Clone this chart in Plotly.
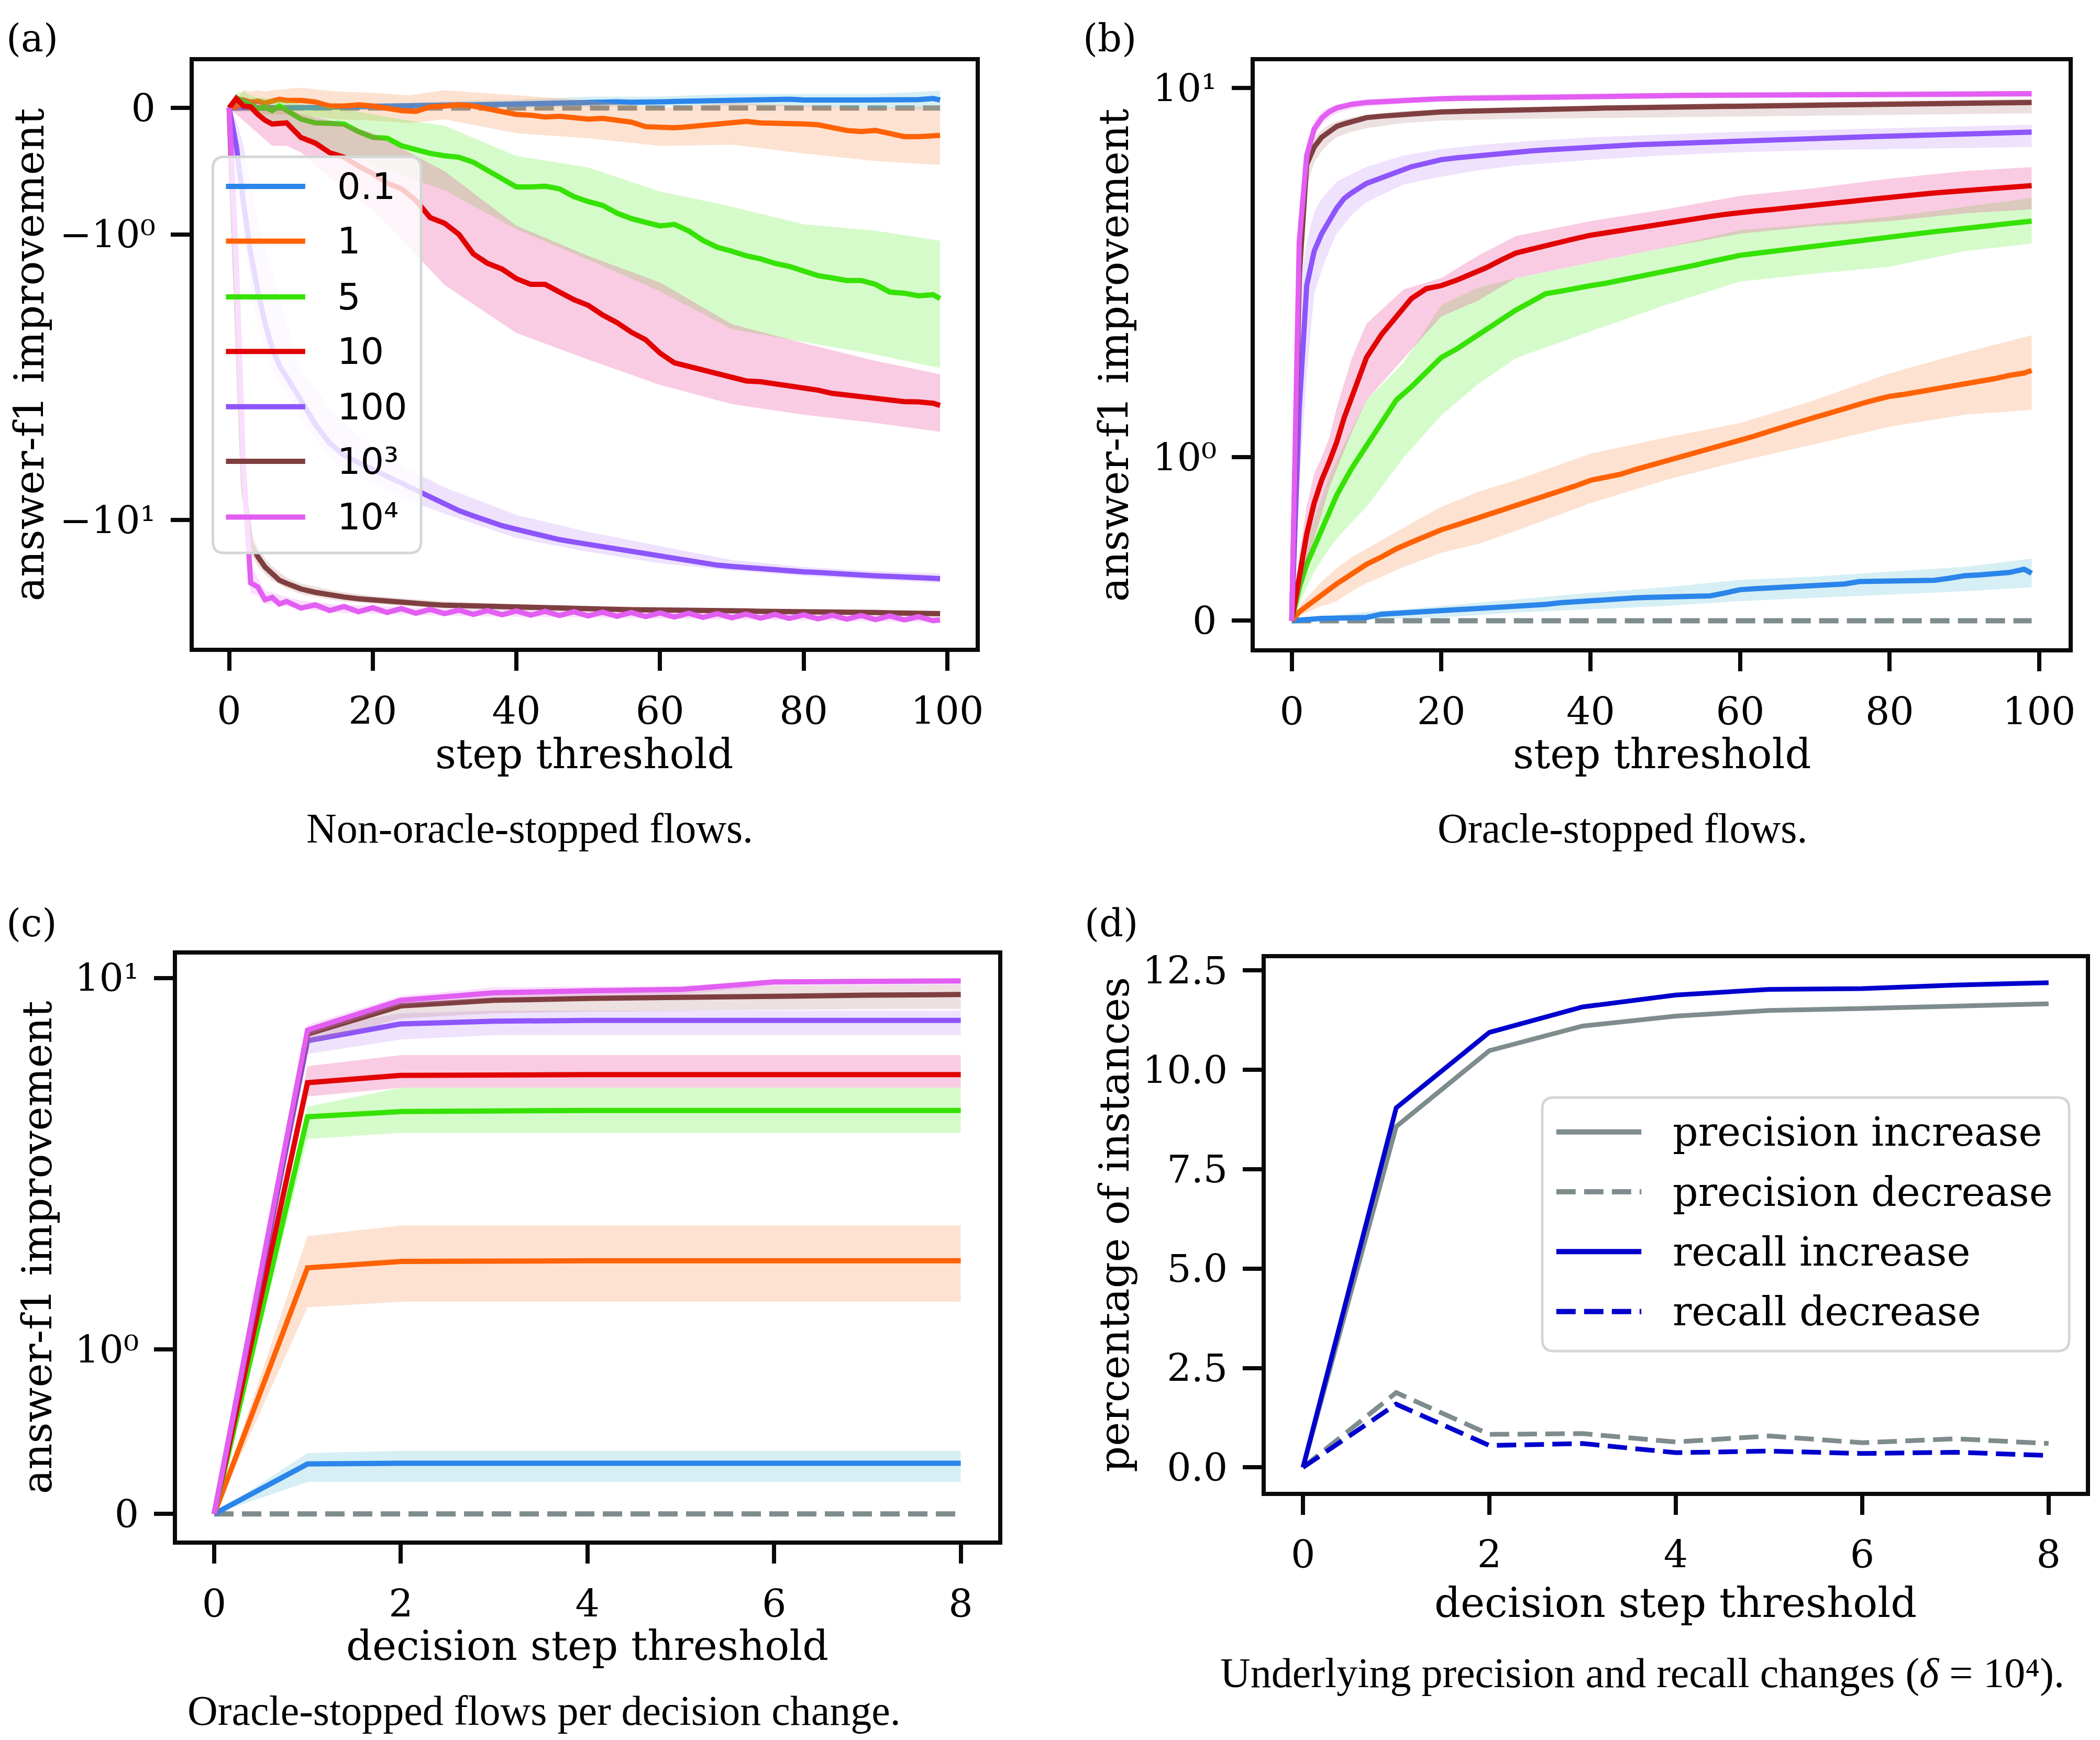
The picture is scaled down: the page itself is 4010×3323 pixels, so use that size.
import numpy as np
import plotly.graph_objects as go

# the page body keeps its default 8px margin, so the figure is drawn 16px smaller
# and every reference pixel position is shifted by that margin
PAGE_MARGIN = 8
FIG_W, FIG_H = 4010 - 2 * PAGE_MARGIN, 3323 - 2 * PAGE_MARGIN

# symlog y axes of the original figure (linthresh = 2, linscale = 1, base 10)
LINTHRESH = 2.0
LINSCALE_ADJ = 1.0 / (1.0 - 1.0 / 10.0)

# ---------------- data ----------------
series_names = ['0.1', '1', '5', '10', '100', '10³', '10⁴']
line_colors = ['#2b85ea', '#ff6205', '#36e204', '#e20404', '#8d55fb', '#7f3f40', '#e35ef2']
band_colors = ['rgba(91,191,215,0.25)', 'rgba(247,139,75,0.25)', 'rgba(91,239,47,0.25)',
               'rgba(231,51,143,0.25)', 'rgba(191,139,247,0.25)', 'rgba(183,131,135,0.25)',
               'rgba(235,131,247,0.25)']
GRAY = '#7f8c8d'
DARK_BLUE = '#0000cd'

steps = [0, 1, 2, 3, 4, 5, 6, 7, 8, 10, 12, 14, 16, 18, 20, 22, 24, 26, 28, 30, 32, 34, 36, 38,
         40, 42, 44, 46, 48, 50, 52, 54, 56, 58, 60, 62, 64, 66, 68, 70, 72, 74, 76, 78, 80, 82,
         84, 86, 88, 90, 92, 94, 96, 98, 99]
band_steps = [0, 1, 2, 3, 4, 5, 6, 8, 10, 15, 20, 25, 30, 40, 50, 60, 70, 80, 90, 99]
decision_steps = [0, 1, 2, 3, 4, 5, 6, 7, 8]

# (a) non-oracle-stopped flows
a_mean_0p1 = [0, 0.0, 0.0, -0.005, -0.005, -0.006, -0.004, -0.003, 0.0, 0.003, 0.003, 0.006, 0.009,
              0.012, 0.015, 0.015, 0.015, 0.018, 0.021, 0.024, 0.024, 0.024, 0.027, 0.030, 0.033,
              0.036, 0.042, 0.045, 0.045, 0.045, 0.048, 0.048, 0.045, 0.042, 0.048, 0.051, 0.054,
              0.054, 0.060, 0.066, 0.069, 0.072, 0.072, 0.069, 0.063, 0.060, 0.060, 0.063, 0.063,
              0.063, 0.060, 0.066, 0.066, 0.075, 0.063]
a_mean_1 = [0, 0.009, 0.063, 0.045, 0.054, 0.039, 0.054, 0.069, 0.06, 0.06, 0.048, 0.015, 0.015,
            0.024, 0.015, -0.006, -0.021, -0.027, 0.009, 0.015, 0.024, 0.015, -0.006, -0.036,
            -0.051, -0.057, -0.072, -0.066, -0.082, -0.088, -0.082, -0.097, -0.112, -0.148,
            -0.157, -0.157, -0.148, -0.136, -0.127, -0.112, -0.106, -0.118, -0.118, -0.118,
            -0.127, -0.133, -0.157, -0.178, -0.187, -0.178, -0.202, -0.227, -0.227, -0.217, -0.217]
a_mean_5 = [0, 0.075, 0.054, 0.024, -0.006, 0.009, -0.021, 0.015, -0.021, -0.088, -0.118, -0.127,
            -0.127, -0.187, -0.233, -0.239, -0.299, -0.329, -0.359, -0.378, -0.39, -0.429, -0.498,
            -0.559, -0.625, -0.625, -0.619, -0.64, -0.701, -0.74, -0.77, -0.831, -0.875, -0.905,
            -0.933, -0.921, -0.973, -1.048, -1.102, -1.133, -1.169, -1.193, -1.229, -1.253, -1.29,
            -1.326, -1.344, -1.365, -1.365, -1.395, -1.456, -1.465, -1.486, -1.477, -1.507]
a_mean_10 = [0, 0.075, 0.015, 0.009, -0.051, -0.097, -0.127, -0.118, -0.118, -0.233, -0.278,
             -0.353, -0.39, -0.459, -0.519, -0.595, -0.64, -0.731, -0.867, -0.912, -1.0, -1.154,
             -1.229, -1.274, -1.35, -1.395, -1.395, -1.456, -1.516, -1.561, -1.637, -1.697, -1.773,
             -1.833, -1.939, -2.04, -2.12, -2.20, -2.29, -2.38, -2.45, -2.47, -2.52, -2.59, -2.65,
             -2.69, -2.78, -2.83, -2.88, -2.91, -2.98, -3.02, -3.03, -3.07, -3.14]
a_mean_100 = [0, -0.3, -0.75, -1.15, -1.45, -1.7, -1.9, -2.1, -2.35, -3.0, -3.8, -4.6, -5.2, -5.6,
              -6.0, -6.4, -6.9, -7.3, -7.9, -8.5, -9.1, -9.6, -10.1, -10.6, -11.0, -11.4, -11.8,
              -12.2, -12.5, -12.8, -13.1, -13.4, -13.8, -14.2, -14.5, -14.9, -15.2, -15.5, -15.8,
              -16.0, -16.2, -16.4, -16.6, -16.7, -16.9, -17.0, -17.2, -17.4, -17.5, -17.6, -17.7,
              -17.8, -17.9, -18.0, -18.1]
a_mean_1e3 = [0, -1.5, -7.2, -12.5, -14.5, -16.1, -17.3, -18.4, -19.0, -20.1, -20.8, -21.4, -21.8,
              -22.2, -22.5, -22.8, -23.0, -23.2, -23.5, -23.7, -23.8, -23.9, -24.1, -24.2, -24.3,
              -24.4, -24.5, -24.5, -24.6, -24.6, -24.7, -24.7, -24.8, -24.8, -24.9, -24.9, -25.0,
              -25.0, -25.1, -25.1, -25.1, -25.2, -25.2, -25.3, -25.3, -25.3, -25.4, -25.4, -25.5,
              -25.5, -25.6, -25.6, -25.7, -25.7, -25.8]
a_mean_1e4 = [0, -1.2, -5.8, -18.9, -19.7, -22.4, -21.9, -23.4, -22.8, -24.4, -23.6, -25.0, -24.0,
              -25.3, -24.3, -25.5, -24.5, -25.7, -24.7, -25.8, -24.9, -26.0, -25.0, -26.1, -25.1,
              -26.2, -25.2, -26.3, -25.3, -26.4, -25.4, -26.5, -25.5, -26.6, -25.6, -26.7, -25.7,
              -26.8, -25.8, -26.9, -25.9, -27.0, -26.0, -27.1, -26.1, -27.2, -26.2, -27.3, -26.3,
              -27.4, -26.4, -27.5, -26.6, -27.7, -27.5]

a_lo_0p1 = [0, -0.02, -0.02, -0.025, -0.025, -0.025, -0.025, -0.02, -0.02, -0.015, -0.01, -0.01,
            -0.005, 0.0, 0.01, 0.015, 0.02, 0.01, 0.0, -0.02]
a_hi_0p1 = [0, 0.02, 0.02, 0.015, 0.015, 0.015, 0.015, 0.02, 0.025, 0.03, 0.04, 0.04, 0.05, 0.065,
            0.09, 0.09, 0.11, 0.11, 0.11, 0.136]
a_lo_1 = [0, -0.03, -0.02, -0.03, -0.04, -0.05, -0.05, -0.05, -0.06, -0.09, -0.1, -0.12, -0.09,
          -0.2, -0.24, -0.30, -0.29, -0.36, -0.42, -0.45]
a_hi_1 = [0, 0.06, 0.14, 0.13, 0.14, 0.13, 0.14, 0.15, 0.16, 0.13, 0.12, 0.1, 0.14, 0.1, 0.06, 0.0,
          0.04, 0.02, 0.0, 0.02]
a_lo_5 = [0, 0.02, 0.0, -0.03, -0.06, -0.07, -0.1, -0.14, -0.2, -0.35, -0.45, -0.55, -0.65, -0.96,
          -1.2, -1.45, -1.75, -1.85, -1.95, -2.15]
a_hi_5 = [0, 0.12, 0.13, 0.1, 0.08, 0.08, 0.07, 0.06, 0.03, 0.0, -0.05, -0.1, -0.14, -0.38, -0.47,
          -0.66, -0.78, -0.92, -0.97, -1.05]
a_lo_10 = [0, -0.05, -0.1, -0.15, -0.2, -0.25, -0.3, -0.3, -0.35, -0.6, -0.81, -1.1, -1.4, -1.78,
           -1.99, -2.55, -3.1, -3.45, -3.75, -4.1]
a_hi_10 = [0, 0.1, 0.08, 0.07, 0.05, 0.03, 0.02, 0.0, -0.05, -0.11, -0.2, -0.35, -0.5, -0.93, -1.17,
           -1.38, -1.71, -1.86, -2.0, -2.29]
a_lo_100 = [0, -0.5, -1.0, -1.4, -1.7, -1.95, -2.2, -2.8, -3.6, -5.8, -6.9, -8.2, -9.4, -12.0,
            -13.8, -15.5, -16.7, -17.6, -18.3, -18.9]
a_hi_100 = [0, -0.1, -0.3, -0.6, -0.9, -1.1, -1.3, -1.7, -2.2, -3.5, -4.8, -6.0, -7.2, -9.5, -11.3,
            -13.0, -15.0, -16.1, -16.8, -17.2]
a_lo_1e3 = [0, -2.5, -9.0, -14.0, -16.0, -17.3, -18.5, -20.0, -21.2, -22.6, -23.4, -23.9, -24.5,
            -25.1, -25.4, -25.6, -25.9, -26.1, -26.3, -26.6]
a_hi_1e3 = [0, -0.8, -5.5, -10.8, -13.0, -14.8, -16.0, -17.9, -19.0, -20.6, -21.6, -22.2, -22.8,
            -23.5, -23.9, -24.2, -24.4, -24.6, -24.8, -25.0]
a_lo_1e4 = [0, -2.0, -9.0, -21.0, -21.5, -23.5, -23.3, -24.0, -24.6, -25.6, -25.8, -26.0, -26.4,
            -26.6, -26.9, -27.1, -27.4, -27.6, -27.9, -28.2]
a_hi_1e4 = [0, -0.5, -3.5, -15.5, -18.0, -20.5, -20.8, -21.8, -22.6, -23.5, -23.8, -24.2, -24.5,
            -25.0, -25.4, -25.6, -25.9, -26.1, -26.4, -26.6]

# (b) oracle-stopped flows
b_mean_0p1 = [0, 0.005, 0.01, 0.012, 0.014, 0.015, 0.015, 0.015, 0.015, 0.02, 0.04, 0.045, 0.05,
              0.055, 0.065, 0.07, 0.075, 0.08, 0.085, 0.09, 0.095, 0.1, 0.11, 0.117, 0.124, 0.13,
              0.135, 0.14, 0.143, 0.147, 0.15, 0.15, 0.152, 0.17, 0.19, 0.196, 0.2, 0.205, 0.21,
              0.215, 0.22, 0.225, 0.24, 0.24, 0.242, 0.245, 0.245, 0.247, 0.26, 0.275, 0.28, 0.285,
              0.295, 0.315, 0.29]
b_mean_1 = [0, 0.054, 0.089, 0.125, 0.16, 0.194, 0.225, 0.255, 0.287, 0.345, 0.39, 0.44, 0.48,
            0.52, 0.556, 0.585, 0.615, 0.64, 0.675, 0.707, 0.735, 0.765, 0.79, 0.825, 0.859, 0.877,
            0.896, 0.925, 0.95, 0.976, 1.0, 1.025, 1.05, 1.08, 1.104, 1.13, 1.16, 1.19, 1.215,
            1.244, 1.27, 1.3, 1.325, 1.35, 1.372, 1.385, 1.4, 1.415, 1.43, 1.443, 1.46, 1.48, 1.5,
            1.515, 1.531]
b_mean_5 = [0, 0.2, 0.345, 0.45, 0.556, 0.66, 0.766, 0.85, 0.93, 1.07, 1.21, 1.35, 1.43, 1.52,
            1.61, 1.66, 1.72, 1.78, 1.84, 1.9, 1.95, 2.0, 2.04, 2.09, 2.13, 2.17, 2.22, 2.27, 2.32,
            2.37, 2.43, 2.5, 2.57, 2.64, 2.7, 2.74, 2.78, 2.82, 2.87, 2.91, 2.96, 3.0, 3.05, 3.09,
            3.14, 3.18, 3.22, 3.25, 3.29, 3.33, 3.37, 3.41, 3.45, 3.49, 3.53]
b_mean_10 = [0, 0.275, 0.53, 0.72, 0.86, 0.97, 1.09, 1.24, 1.37, 1.61, 1.75, 1.86, 1.97, 2.08,
             2.13, 2.22, 2.33, 2.45, 2.6, 2.75, 2.83, 2.92, 2.99, 3.08, 3.16, 3.22, 3.29, 3.36,
             3.43, 3.49, 3.55, 3.61, 3.66, 3.72, 3.78, 3.82, 3.86, 3.9, 3.95, 3.99, 4.05, 4.1,
             4.15, 4.21, 4.26, 4.3, 4.35, 4.4, 4.44, 4.49, 4.53, 4.56, 4.6, 4.63, 4.66]
b_mean_100 = [0, 1.3, 2.13, 2.79, 3.2, 3.53, 3.9, 4.21, 4.4, 4.74, 4.95, 5.2, 5.4, 5.55, 5.71, 5.79,
              5.86, 5.93, 6.0, 6.06, 6.11, 6.16, 6.21, 6.25, 6.30, 6.33, 6.37, 6.41, 6.44, 6.47,
              6.5, 6.53, 6.56, 6.59, 6.62, 6.64, 6.67, 6.69, 6.72, 6.74, 6.76, 6.79, 6.81, 6.84,
              6.86, 6.88, 6.89, 6.91, 6.93, 6.94, 6.96, 6.98, 7.0, 7.04, 7.08]
b_mean_1e3 = [0, 2.3, 5.5, 6.3, 6.8, 7.14, 7.4, 7.55, 7.7, 7.93, 8.02, 8.1, 8.17, 8.23, 8.29, 8.32,
              8.35, 8.38, 8.41, 8.43, 8.45, 8.47, 8.49, 8.51, 8.53, 8.55, 8.56, 8.58, 8.59, 8.61,
              8.62, 8.64, 8.65, 8.67, 8.69, 8.70, 8.71, 8.72, 8.73, 8.74, 8.75, 8.76, 8.77, 8.78,
              8.8, 8.81, 8.82, 8.83, 8.85, 8.86, 8.87, 8.89, 8.9, 8.92, 8.93]
b_mean_1e4 = [0, 3.0, 5.9, 7.25, 7.9, 8.3, 8.55, 8.7, 8.8, 8.93, 9.0, 9.06, 9.11, 9.16, 9.2, 9.22,
              9.24, 9.26, 9.28, 9.3, 9.31, 9.33, 9.34, 9.36, 9.37, 9.38, 9.39, 9.4, 9.41, 9.42,
              9.43, 9.44, 9.44, 9.45, 9.46, 9.46, 9.47, 9.47, 9.48, 9.48, 9.49, 9.49, 9.5, 9.5,
              9.51, 9.51, 9.52, 9.52, 9.53, 9.53, 9.54, 9.54, 9.55, 9.55, 9.56]

b_lo_0p1 = [0, 0.0, 0.0, 0.0, 0.0, 0.0, 0.0, 0.0, 0.007, 0.015, 0.02, 0.035, 0.05, 0.07, 0.09,
            0.12, 0.14, 0.16, 0.18, 0.205]
b_hi_0p1 = [0, 0.01, 0.02, 0.025, 0.03, 0.03, 0.035, 0.045, 0.054, 0.07, 0.089, 0.11, 0.13, 0.17,
            0.205, 0.25, 0.27, 0.30, 0.33, 0.38]
b_lo_1 = [0, 0.03, 0.05, 0.07, 0.09, 0.1, 0.12, 0.18, 0.229, 0.33, 0.415, 0.47, 0.55, 0.719, 0.86,
          0.976, 1.08, 1.186, 1.26, 1.29]
b_hi_1 = [0, 0.09, 0.14, 0.19, 0.24, 0.28, 0.32, 0.39, 0.439, 0.57, 0.696, 0.79, 0.86, 1.022, 1.12,
          1.209, 1.35, 1.513, 1.64, 1.746]
b_lo_5 = [0, 0.1, 0.2, 0.3, 0.37, 0.44, 0.5, 0.6, 0.696, 1.0, 1.256, 1.45, 1.606, 1.77, 1.93, 2.2,
          2.34, 2.47, 2.79, 2.96]
b_hi_5 = [0, 0.35, 0.5, 0.62, 0.75, 0.88, 0.98, 1.17, 1.349, 1.58, 1.93, 2.1, 2.26, 2.55, 2.87,
          3.29, 3.45, 3.65, 3.95, 4.23]
b_lo_10 = [0, 0.15, 0.35, 0.5, 0.65, 0.81, 0.92, 1.15, 1.349, 1.606, 1.86, 1.96, 2.26, 2.55, 2.87,
           3.2, 3.39, 3.53, 3.75, 3.87]
b_hi_10 = [0, 0.4, 0.7, 0.9, 1.0, 1.116, 1.3, 1.6, 1.816, 2.07, 2.26, 2.7, 3.14, 3.53, 3.87, 4.3,
           4.57, 4.92, 5.22, 5.38]
b_lo_100 = [0, 0.8, 1.5, 2.0, 2.4, 2.8, 3.2, 3.7, 4.1, 4.7, 5.0, 5.25, 5.45, 5.7, 5.9, 6.05, 6.15,
            6.2, 6.25, 6.3]
b_hi_100 = [0, 2.0, 3.0, 3.8, 4.2, 4.5, 4.8, 5.1, 5.4, 5.9, 6.2, 6.4, 6.55, 6.8, 6.95, 7.1, 7.2,
            7.3, 7.4, 7.5]
b_lo_1e3 = [0, 1.7, 4.6, 5.6, 6.1, 6.5, 6.8, 7.1, 7.3, 7.6, 7.75, 7.8, 7.85, 7.9, 7.95, 8.0, 8.05,
            8.1, 8.15, 8.2]
b_hi_1e3 = [0, 3.0, 6.0, 6.8, 7.2, 7.5, 7.7, 7.95, 8.1, 8.35, 8.45, 8.55, 8.6, 8.7, 8.8, 8.9,
            8.95, 9.05, 9.1, 9.2]
b_lo_1e4 = [0, 2.5, 5.3, 6.8, 7.5, 7.9, 8.2, 8.5, 8.65, 8.85, 8.95, 9.05, 9.1, 9.15, 9.2, 9.25,
            9.28, 9.3, 9.32, 9.33]
b_hi_1e4 = [0, 3.6, 6.5, 7.7, 8.3, 8.6, 8.8, 9.0, 9.15, 9.3, 9.4, 9.5, 9.52, 9.58, 9.63, 9.67,
            9.7, 9.72, 9.76, 9.8]

# (c) oracle-stopped flows per decision change
c_mean_0p1 = [0, 0.304, 0.308, 0.308, 0.308, 0.308, 0.308, 0.308, 0.308]
c_mean_1 = [0, 1.496, 1.535, 1.539, 1.539, 1.539, 1.539, 1.539, 1.539]
c_mean_5 = [0, 3.40, 3.54, 3.57, 3.57, 3.57, 3.57, 3.57, 3.57]
c_mean_10 = [0, 4.43, 4.69, 4.72, 4.72, 4.72, 4.72, 4.72, 4.72]
c_mean_100 = [0, 6.14, 7.0, 7.15, 7.19, 7.19, 7.19, 7.19, 7.19]
c_mean_1e3 = [0, 6.47, 8.05, 8.41, 8.53, 8.63, 8.70, 8.75, 8.80]
c_mean_1e4 = [0, 6.67, 8.41, 8.92, 9.05, 9.15, 9.70, 9.72, 9.78]

c_lo_0p1 = [0, 0.194, 0.194, 0.194, 0.194, 0.194, 0.194, 0.194, 0.194]
c_hi_0p1 = [0, 0.37, 0.384, 0.384, 0.384, 0.384, 0.384, 0.384, 0.384]
c_lo_1 = [0, 1.256, 1.29, 1.29, 1.29, 1.29, 1.29, 1.29, 1.29]
c_hi_1 = [0, 1.69, 1.754, 1.754, 1.754, 1.754, 1.754, 1.754, 1.754]
c_lo_5 = [0, 2.86, 3.0, 3.0, 3.0, 3.0, 3.0, 3.0, 3.0]
c_hi_5 = [0, 3.68, 4.26, 4.26, 4.26, 4.26, 4.26, 4.26, 4.26]
c_lo_10 = [0, 3.98, 4.26, 4.26, 4.26, 4.26, 4.26, 4.26, 4.26]
c_hi_10 = [0, 5.04, 5.49, 5.49, 5.49, 5.49, 5.49, 5.49, 5.49]
c_lo_100 = [0, 5.54, 6.2, 6.41, 6.41, 6.41, 6.41, 6.41, 6.41]
c_hi_100 = [0, 6.7, 7.6, 7.76, 7.76, 7.76, 7.76, 7.76, 7.76]
c_lo_1e3 = [0, 6.0, 7.3, 7.6, 7.7, 7.75, 7.8, 7.85, 7.87]
c_hi_1e3 = [0, 6.7, 8.5, 8.9, 9.1, 9.2, 9.4, 9.45, 9.5]
c_lo_1e4 = [0, 6.4, 8.1, 8.55, 8.7, 8.8, 9.4, 9.45, 9.5]
c_hi_1e4 = [0, 6.95, 8.7, 9.3, 9.35, 9.4, 9.85, 9.88, 9.9]

# (d) underlying precision / recall changes (delta = 10^4)
d_precision_increase = [0, 8.57, 10.48, 11.1, 11.35, 11.49, 11.54, 11.6, 11.66]
d_precision_decrease = [0, 1.88, 0.83, 0.85, 0.64, 0.79, 0.62, 0.72, 0.6]
d_recall_increase = [0, 9.04, 10.94, 11.58, 11.88, 12.02, 12.04, 12.13, 12.19]
d_recall_decrease = [0, 1.59, 0.55, 0.6, 0.37, 0.41, 0.35, 0.38, 0.3]

a_means = [a_mean_0p1, a_mean_1, a_mean_5, a_mean_10, a_mean_100, a_mean_1e3, a_mean_1e4]
a_los = [a_lo_0p1, a_lo_1, a_lo_5, a_lo_10, a_lo_100, a_lo_1e3, a_lo_1e4]
a_his = [a_hi_0p1, a_hi_1, a_hi_5, a_hi_10, a_hi_100, a_hi_1e3, a_hi_1e4]
b_means = [b_mean_0p1, b_mean_1, b_mean_5, b_mean_10, b_mean_100, b_mean_1e3, b_mean_1e4]
b_los = [b_lo_0p1, b_lo_1, b_lo_5, b_lo_10, b_lo_100, b_lo_1e3, b_lo_1e4]
b_his = [b_hi_0p1, b_hi_1, b_hi_5, b_hi_10, b_hi_100, b_hi_1e3, b_hi_1e4]
c_means = [c_mean_0p1, c_mean_1, c_mean_5, c_mean_10, c_mean_100, c_mean_1e3, c_mean_1e4]
c_los = [c_lo_0p1, c_lo_1, c_lo_5, c_lo_10, c_lo_100, c_lo_1e3, c_lo_1e4]
c_his = [c_hi_0p1, c_hi_1, c_hi_5, c_hi_10, c_hi_100, c_hi_1e3, c_hi_1e4]


def symlog(values):
    v = np.asarray(values, dtype=float)
    a = np.abs(v)
    outside = np.sign(v) * LINTHRESH * (LINSCALE_ADJ + np.log10(np.maximum(a, LINTHRESH) / LINTHRESH))
    return np.where(a <= LINTHRESH, v * LINSCALE_ADJ, outside)


# reference pixel -> paper fraction
def px_x(p):
    return min(max((p - PAGE_MARGIN) / FIG_W, 0.0), 1.0)


def px_y(p):
    return min(max(1 - (p - PAGE_MARGIN) / FIG_H, 0.0), 1.0)


def rounded_box(x0, y0, x1, y1, r):
    # rounded rectangle path in paper coordinates (corner radius r in px)
    pts = [
        ('M', x0 + r, y0), ('L', x1 - r, y0), ('Q', x1, y0, x1, y0 + r),
        ('L', x1, y1 - r), ('Q', x1, y1, x1 - r, y1), ('L', x0 + r, y1),
        ('Q', x0, y1, x0, y1 - r), ('L', x0, y0 + r), ('Q', x0, y0, x0 + r, y0),
    ]
    parts = []
    for p in pts:
        coords = []
        for j in range(1, len(p), 2):
            coords.append('%.6f,%.6f' % (px_x(p[j]), px_y(p[j + 1])))
        parts.append(p[0] + ' '.join(coords))
    return ' '.join(parts) + ' Z'


fig = go.Figure()

panels = [
    ('x', 'y', steps, a_means, band_steps, a_los, a_his),
    ('x2', 'y2', steps, b_means, band_steps, b_los, b_his),
    ('x3', 'y3', decision_steps, c_means, decision_steps, c_los, c_his),
]

DASH = '37px,16px'

for xa, ya, xs, means, bxs, los, his in panels:
    # zero reference line
    fig.add_trace(go.Scatter(x=[xs[0], xs[-1]], y=[0, 0], mode='lines',
                             line=dict(color=GRAY, width=10, dash=DASH),
                             xaxis=xa, yaxis=ya, hoverinfo='skip'))
    for i in range(len(series_names)):
        band_y = np.concatenate([symlog(his[i]), symlog(los[i])[::-1]])
        fig.add_trace(go.Scatter(x=list(bxs) + list(bxs)[::-1], y=band_y, mode='lines',
                                 fill='toself', fillcolor=band_colors[i], line=dict(width=0),
                                 xaxis=xa, yaxis=ya, hoverinfo='skip'))
        fig.add_trace(go.Scatter(x=xs, y=symlog(means[i]), mode='lines', name=series_names[i],
                                 line=dict(color=line_colors[i], width=10),
                                 xaxis=xa, yaxis=ya))

# (d)
d_lines = [
    ('precision increase', d_precision_increase, GRAY, 'solid'),
    ('precision decrease', d_precision_decrease, GRAY, DASH),
    ('recall increase', d_recall_increase, DARK_BLUE, 'solid'),
    ('recall decrease', d_recall_decrease, DARK_BLUE, DASH),
]
for name, ys, color, dash in d_lines:
    fig.add_trace(go.Scatter(x=decision_steps, y=ys, mode='lines', name=name,
                             line=dict(color=color, width=9, dash=dash),
                             xaxis='x4', yaxis='y4'))

axis_style = dict(showline=True, linecolor='#0a0a0a', linewidth=8, mirror=True,
                  ticks='outside', ticklen=36, tickwidth=8, tickcolor='#0a0a0a',
                  showgrid=False, zeroline=False, ticklabelstandoff=14,
                  tickfont=dict(family='DejaVu Serif', size=73, color='black'))

neg_ticks = symlog([0, -1, -10]).tolist()
pos_ticks = symlog([0, 1, 10]).tolist()

fig.update_layout(
    width=FIG_W, height=FIG_H,
    margin=dict(l=0, r=0, t=0, b=0),
    paper_bgcolor='white', plot_bgcolor='white',
    showlegend=False,
    xaxis=dict(domain=[px_x(371), px_x(1870)], range=[-4.95, 103.95], anchor='y',
               tickvals=[0, 20, 40, 60, 80, 100], **axis_style),
    yaxis=dict(domain=[px_y(1225), px_y(99)], range=[-4.743, 0.408], anchor='x',
               tickvals=neg_ticks, ticktext=['0', '−10⁰', '−10¹'], **axis_style),
    xaxis2=dict(domain=[px_x(2405), px_x(3965)], range=[-4.95, 103.95], anchor='y2',
                tickvals=[0, 20, 40, 60, 80, 100], **axis_style),
    yaxis2=dict(domain=[px_y(1226), px_y(99)], range=[-0.187, 3.80], anchor='x2',
                tickvals=pos_ticks, ticktext=['0', '10⁰', '10¹'], **axis_style),
    xaxis3=dict(domain=[px_x(339), px_x(1913)], range=[-0.4, 8.4], anchor='y3',
                tickvals=[0, 2, 4, 6, 8], **axis_style),
    yaxis3=dict(domain=[px_y(2940), px_y(1814)], range=[-0.18, 3.78], anchor='x3',
                tickvals=pos_ticks, ticktext=['0', '10⁰', '10¹'], **axis_style),
    xaxis4=dict(domain=[px_x(2426), px_x(3998)], range=[-0.4, 8.4], anchor='y4',
                tickvals=[0, 2, 4, 6, 8], **axis_style),
    yaxis4=dict(domain=[px_y(2846), px_y(1821)], range=[-0.61, 12.81], anchor='x4',
                tickvals=[0, 2.5, 5, 7.5, 10, 12.5], tickformat='.1f', **axis_style),
)

# ---------------- text ----------------
annotations = []


def add_text(text, x, y, size, family, angle=0, xanchor='center', yanchor='middle'):
    annotations.append(dict(text=text, x=px_x(x), y=px_y(y), xref='paper', yref='paper',
                            showarrow=False, textangle=angle, xanchor=xanchor, yanchor=yanchor,
                            font=dict(family=family, size=size, color='black')))


SERIF = 'DejaVu Serif'
TIMES = 'Liberation Serif'

# panel letters (the left ones start at the figure's left edge, the top ones hang from its top)
add_text('(a)', PAGE_MARGIN + 2, PAGE_MARGIN + 2, 72, SERIF, xanchor='left', yanchor='top')
add_text('(b)', 2127, PAGE_MARGIN + 2, 72, SERIF, yanchor='top')
add_text('(c)', PAGE_MARGIN + 2, 1754, 72, SERIF, xanchor='left')
add_text('(d)', 2130, 1754, 72, SERIF)

add_text('step threshold', 1120, 1429, 78, SERIF)
add_text('step threshold', 3185, 1429, 78, SERIF)
add_text('decision step threshold', 1126, 3142, 78, SERIF)
add_text('decision step threshold', 3212, 3060, 78, SERIF)

add_text('answer-f1 improvement', PAGE_MARGIN + 1, 662, 78, SERIF, angle=-90, xanchor='left')
add_text('answer-f1 improvement', 2135, 663, 78, SERIF, angle=-90)
add_text('answer-f1 improvement', 72, 2377, 78, SERIF, angle=-90)
add_text('percentage of instances', 2136, 2333, 78, SERIF, angle=-90)

add_text('Non-oracle-stopped flows.', 1015, 1572, 80, TIMES)
add_text('Oracle-stopped flows.', 3110, 1572, 80, TIMES)
add_text('Oracle-stopped flows per decision change.', 1043, 3323 - PAGE_MARGIN - 2, 80, TIMES,
         yanchor='bottom')
add_text('Underlying precision and recall changes (<i>δ</i> = 10⁴).', 3148, 3195, 80, TIMES)

# ---------------- legends ----------------
shapes = []
# legend of (a)
shapes.append(dict(type='path', xref='paper', yref='paper', layer='above',
                   path=rounded_box(408, 282, 807, 1043, 22),
                   fillcolor='rgba(255,255,255,0.8)', line=dict(color='#d3d7d7', width=5)))
legend_a_rows = [339, 444, 551, 656, 762, 867, 974]
for i, row in enumerate(legend_a_rows):
    shapes.append(dict(type='line', xref='paper', yref='paper', layer='above',
                       x0=px_x(433), x1=px_x(585), y0=px_y(row), y1=px_y(row),
                       line=dict(color=line_colors[i], width=10)))
    add_text(series_names[i], 644, row, 70, 'DejaVu Sans', xanchor='left')

# legend of (d)
shapes.append(dict(type='path', xref='paper', yref='paper', layer='above',
                   path=rounded_box(2956, 2089, 3966, 2576, 22),
                   fillcolor='rgba(255,255,255,0.8)', line=dict(color='#d3d7d7', width=5)))
legend_d_rows = [2155, 2270, 2385, 2500]
for (name, _, color, dash), row in zip(d_lines, legend_d_rows):
    shapes.append(dict(type='line', xref='paper', yref='paper', layer='above',
                       x0=px_x(2983), x1=px_x(3146), y0=px_y(row), y1=px_y(row),
                       line=dict(color=color, width=10, dash=dash)))
    add_text(name, 3204, row, 76, SERIF, xanchor='left')

fig.update_layout(annotations=annotations, shapes=shapes)

fig.write_html("out.html")
